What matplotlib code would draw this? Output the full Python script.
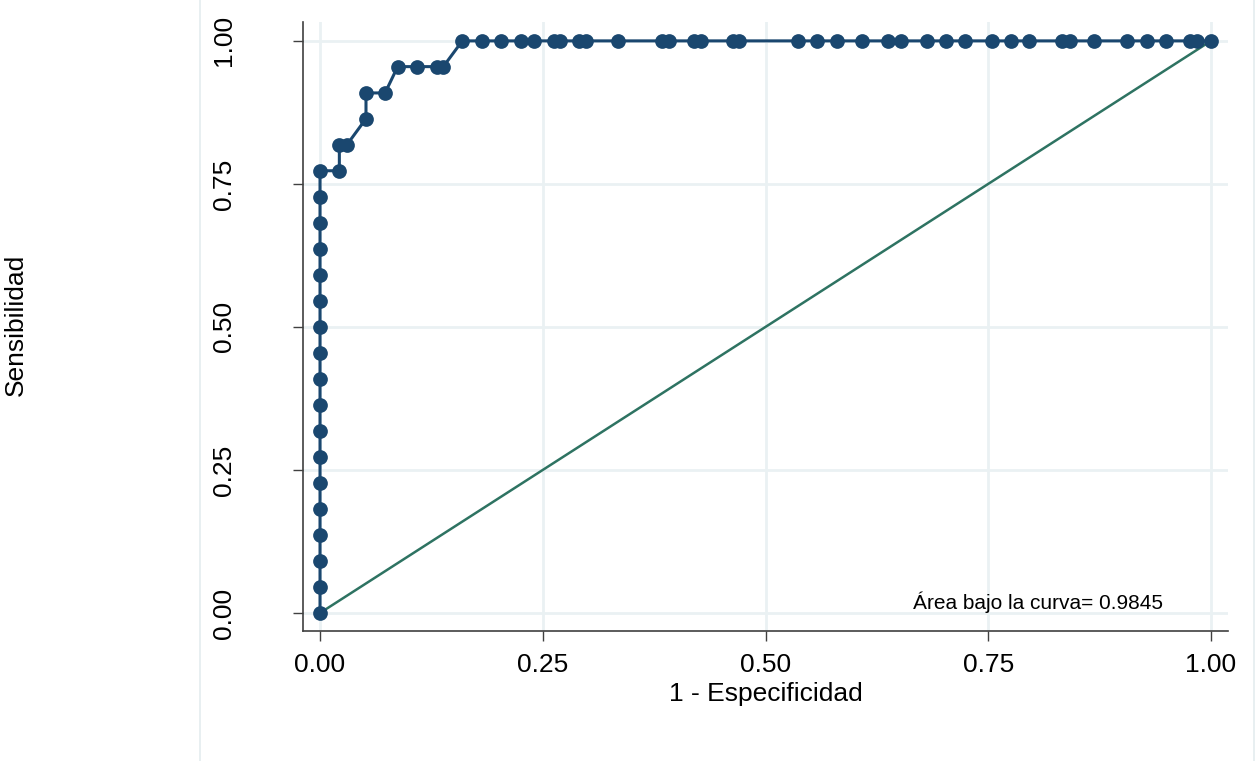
import matplotlib
matplotlib.use("Agg")
import matplotlib.pyplot as plt
from matplotlib.lines import Line2D

plt.rcParams['font.family'] = ['Liberation Sans', 'DejaVu Sans']

# ROC curve points (1 - specificity, sensitivity)
fpr = [0.0, 0.0, 0.0, 0.0, 0.0, 0.0, 0.0, 0.0, 0.0, 0.0, 0.0, 0.0, 0.0, 0.0,
       0.0, 0.0, 0.0, 0.0,
       0.0217, 0.0217, 0.0300, 0.0516, 0.0516, 0.0730,
       0.0872, 0.1085, 0.1310, 0.1384,
       0.1597, 0.1818, 0.2031, 0.2256, 0.2405, 0.2630, 0.2697, 0.2910,
       0.2985, 0.3341, 0.3835, 0.3920, 0.4200, 0.4273, 0.4639, 0.4706,
       0.5369, 0.5574, 0.5799, 0.6079, 0.6371, 0.6521, 0.6809, 0.7026,
       0.7239, 0.7538, 0.7752, 0.7961, 0.8324, 0.8418, 0.8690, 0.9054,
       0.9278, 0.9492, 0.9764, 0.9839, 1.0]
sens = [0.000, 0.045, 0.091, 0.136, 0.182, 0.227, 0.273, 0.318, 0.364,
        0.409, 0.455, 0.500, 0.545, 0.591, 0.636, 0.682, 0.727, 0.773,
        0.773, 0.818, 0.818, 0.864, 0.909, 0.909,
        0.955, 0.955, 0.955, 0.955,
        1.0, 1.0, 1.0, 1.0, 1.0, 1.0, 1.0, 1.0,
        1.0, 1.0, 1.0, 1.0, 1.0, 1.0, 1.0, 1.0,
        1.0, 1.0, 1.0, 1.0, 1.0, 1.0, 1.0, 1.0,
        1.0, 1.0, 1.0, 1.0, 1.0, 1.0, 1.0, 1.0,
        1.0, 1.0, 1.0, 1.0, 1.0]
ref_x = [0.0, 1.0]
ref_y = [0.0, 1.0]
ticks = [0.0, 0.25, 0.50, 0.75, 1.00]
tick_labels = ["0.00", "0.25", "0.50", "0.75", "1.00"]
auc_text = "Área bajo la curva= 0.9845"

navy = "#1a476f"
ref_color = "#2e7362"
grid_color = "#eaf1f3"
spine_color = "#404040"

fig = plt.figure(figsize=(12.57, 7.61), dpi=100)
ax = fig.add_axes([303 / 1257, 1 - 631 / 761, 925 / 1257, (631 - 22) / 761])

ax.plot(ref_x, ref_y, color=ref_color, lw=1.8, zorder=2)
ax.plot(fpr, sens, color=navy, lw=2.2, marker='o', markersize=10.6,
        markeredgewidth=0, zorder=3)

ax.set_xlim(-0.0191, 1.0191)
ax.set_ylim(-0.0315, 1.033)
ax.set_xticks(ticks)
ax.set_xticklabels(tick_labels)
ax.set_yticks(ticks)
ax.set_yticklabels(tick_labels, rotation=90, va='center')

ax.grid(True, color=grid_color, lw=2.0, zorder=0)
ax.set_axisbelow(True)

for side in ('top', 'right'):
    ax.spines[side].set_visible(False)
for side in ('left', 'bottom'):
    ax.spines[side].set_color(spine_color)
    ax.spines[side].set_linewidth(1.2)

ax.tick_params(axis='both', direction='out', length=7.2, width=1.0,
               color=spine_color, labelsize=19, labelcolor='black')
ax.tick_params(axis='y', pad=41)
ax.tick_params(axis='x', pad=9)

ax.set_xlabel("1 - Especificidad", fontsize=19, labelpad=3)

ax.text(0.6655, 0.0065, auc_text, fontsize=15, va='baseline', ha='left')

# Y-axis title placed far to the left of the tick labels
fig.text(16 / 1257, 1 - 325 / 761, "Sensibilidad", fontsize=19,
         rotation=90, ha='center', va='center')

# Light frame edges of the graph region
for xpix in (200, 1254):
    fig.add_artist(Line2D([xpix / 1257, xpix / 1257], [0, 1],
                          transform=fig.transFigure, color="#e4ecef", lw=1.2))

fig.savefig("out.png", dpi=100, facecolor='white')
